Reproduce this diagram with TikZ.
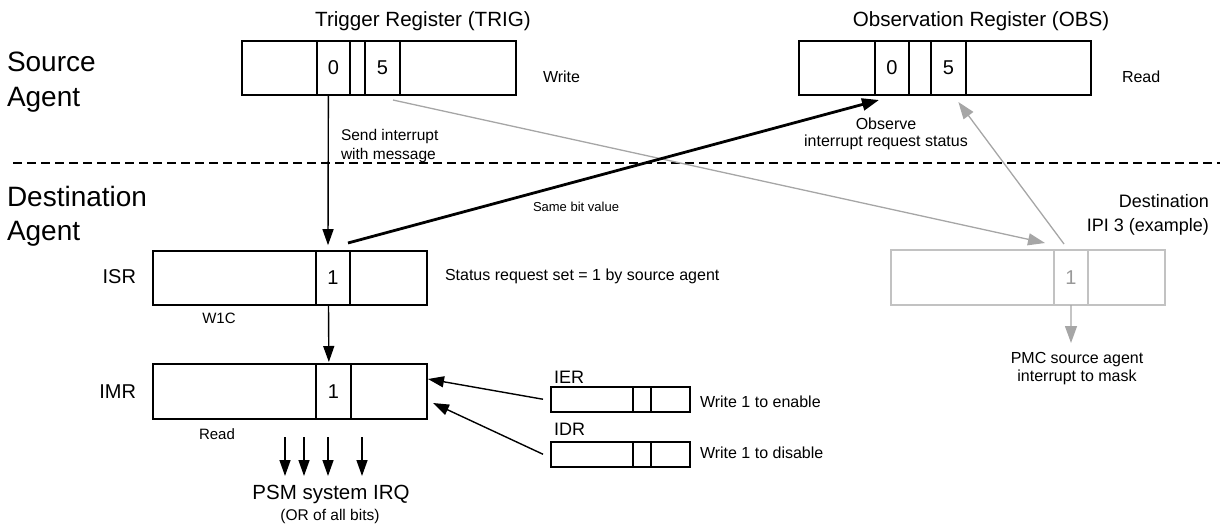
\documentclass[tikz,border=0pt]{standalone}
\usepackage{fontspec}
\setmainfont{Liberation Sans}
\usetikzlibrary{arrows.meta}
\definecolor{boxgray}{HTML}{C2C2C2}
\definecolor{arrgray}{HTML}{A6A6A6}
\definecolor{txtgray}{HTML}{999999}
\newcommand\myfs[2]{\fontsize{#1}{#2}\selectfont}
\begin{document}
\begin{tikzpicture}[x=1pt,y=-1pt,
  cell/.style={draw, line width=2.3pt, inner sep=0pt, outer sep=0pt, anchor=north west,
    minimum height=54.3pt, font=\myfs{20}{24}},
  gcell/.style={cell, draw=boxgray, text=txtgray},
  scell/.style={cell, line width=2pt, minimum height=24.5pt},
  lbl/.style={inner sep=0pt, outer sep=0pt},
  arr/.style={line width=1.4pt, -{Triangle[length=16pt,width=11pt]}},
  garr/.style={line width=1.3pt, draw=arrgray, -{Triangle[length=17pt,width=12pt,fill=arrgray]}},
  barr/.style={line width=2.8pt, -{Triangle[length=17pt,width=12pt]}},
  sep/.style={line width=2pt, dash pattern=on 9pt off 5pt}]
\useasboundingbox (0,0) rectangle (1220,527);

% ---- section labels and divider
\node[lbl, anchor=west, align=left, font=\myfs{28}{35}] (src) at (7,82) {Source\\Agent};
\node[lbl, anchor=west, align=left, font=\myfs{28}{34}] (dst) at (7,216) {Destination\\Agent};
\coordinate (dashL) at (13,163);
\coordinate (dashR) at (1220,163);
\draw[sep] (dashL) -- (dashR);

% ---- Trigger register
\node[lbl, font=\myfs{20.6}{24}] (trT) at (423,21) {Trigger Register (TRIG)};
\node[cell, minimum width=75pt] (trA) at (241.7,40.7) {};
\node[cell, minimum width=33.3pt] (tr0) at (trA.north east) {0};
\node[cell, minimum width=15pt] (trB) at (tr0.north east) {};
\node[cell, minimum width=35pt] (tr5) at (trB.north east) {5};
\node[cell, minimum width=115.7pt] (trC) at (tr5.north east) {};
\node[lbl, anchor=west, font=\myfs{16}{18}] (wr) at (543,77) {Write};

% ---- Observation register
\node[lbl, font=\myfs{20.6}{24}] (obT) at (981,21) {Observation Register (OBS)};
\node[cell, minimum width=75.7pt] (obA) at (799.3,40.7) {};
\node[cell, minimum width=33.7pt] (ob0) at (obA.north east) {0};
\node[cell, minimum width=22.3pt] (obB) at (ob0.north east) {};
\node[cell, minimum width=34.7pt] (ob5) at (obB.north east) {5};
\node[cell, minimum width=125pt] (obC) at (ob5.north east) {};
\node[lbl, anchor=west, font=\myfs{16}{18}] (rd) at (1122,77) {Read};

% ---- ISR
\node[lbl, anchor=east, font=\myfs{20}{24}] (isrL) at (136,277) {ISR};
\node[cell, minimum width=163.3pt] (isA) at (152.7,250.7) {};
\node[cell, minimum width=34pt] (is1) at (isA.north east) {1};
\node[cell, minimum width=76.7pt] (isC) at (is1.north east) {};
\node[lbl, font=\myfs{15}{18}] (w1c) at (219,318) {W1C};
\node[lbl, anchor=west, font=\myfs{16}{18}] (stat) at (445,276) {Status request set = 1 by source agent};

% ---- IMR
\node[lbl, anchor=east, font=\myfs{20}{24}] (imrL) at (136,392) {IMR};
\node[cell, minimum width=163.3pt, minimum height=55pt] (imA) at (152.7,364) {};
\node[cell, minimum width=34.7pt, minimum height=55pt] (im1) at (imA.north east) {1};
\node[cell, minimum width=76.3pt, minimum height=55pt] (imC) at (im1.north east) {};
\node[lbl, font=\myfs{15}{18}] (rd2) at (217,434) {Read};

% ---- IER / IDR
\node[lbl, anchor=west, font=\myfs{18}{20}] (ierL) at (554,377) {IER};
\node[scell, minimum width=82pt] (ieA) at (551,387) {};
\node[scell, minimum width=18pt] (ieB) at (ieA.north east) {};
\node[scell, minimum width=39pt] (ieC) at (ieB.north east) {};
\node[lbl, anchor=west, font=\myfs{16}{18}] (ierT) at (700,402) {Write 1 to enable};
\node[lbl, anchor=west, font=\myfs{18}{20}] (idrL) at (554,429) {IDR};
\node[scell, minimum width=82pt] (idA) at (551,442) {};
\node[scell, minimum width=18pt] (idB) at (idA.north east) {};
\node[scell, minimum width=39pt] (idC) at (idB.north east) {};
\node[lbl, anchor=west, font=\myfs{16}{18}] (idrT) at (700,453) {Write 1 to disable};

% ---- Destination IPI (grey)
\node[lbl, anchor=east, align=right, font=\myfs{18}{24}] (dstT) at (1209,215) {Destination\\IPI 3 (example)};
\node[gcell, minimum width=163.3pt, minimum height=55pt] (dsA) at (890.7,250) {};
\node[gcell, minimum width=34pt, minimum height=55pt] (ds1) at (dsA.north east) {1};
\node[gcell, minimum width=77pt, minimum height=55pt] (dsC) at (ds1.north east) {};
\node[lbl, align=center, font=\myfs{16}{18}] (pmc) at (1077,369) {PMC source agent\\interrupt to mask};
\coordinate (dsTip) at (1071,343);

% ---- PSM output
\node[lbl, font=\myfs{20.5}{24}] (psm) at (331,494) {PSM system IRQ};
\node[lbl, font=\myfs{15.5}{18}] (psmor) at (330,516) {(OR of all bits)};
\foreach \i/\x in {a/285,b/304,c/328,d/362}{
  \coordinate (ps\i0) at (\x,437);
  \coordinate (ps\i1) at (\x,476);
  \draw[arr] (ps\i0) -- (ps\i1);
}

% ---- connector labels
\node[lbl, anchor=west, align=left, font=\myfs{15.5}{19}] (send) at (341,146) {Send interrupt\\with message};
\node[lbl, align=center, font=\myfs{16}{17.5}] (obsv) at (886,134) {Observe\\interrupt request status};
\node[lbl, font=\myfs{13}{15}] (same) at (576,207) {Same bit value};

% ---- connectors
\draw[garr] ([xshift=-7pt,yshift=-5pt]tr5.south east) -- ([xshift=-9pt,yshift=7pt]ds1.north west);
\draw[garr] ([xshift=-7pt,yshift=6pt]ds1.north) -- ([xshift=10pt,yshift=-7pt]ob5.south);
\draw[garr] (ds1.south) -- (dsTip);
\draw[arr] ([xshift=-5pt]tr0.south) -- ([xshift=-5pt,yshift=5.5pt]is1.north);
\draw[arr] ([xshift=-4.5pt]is1.south) -- ([xshift=-4.5pt,yshift=2pt]im1.north);
\draw[barr] ([xshift=-2pt,yshift=7.7pt]is1.north east) -- ([xshift=4pt,yshift=-5pt]ob0.south west);
\draw[arr] ([xshift=-8pt]ieA.west) -- ([xshift=1pt,yshift=-15pt]imC.north east);
\draw[arr] ([xshift=-8pt]idA.west) -- ([xshift=6pt,yshift=-39pt]imC.north east);
\end{tikzpicture}
\end{document}
